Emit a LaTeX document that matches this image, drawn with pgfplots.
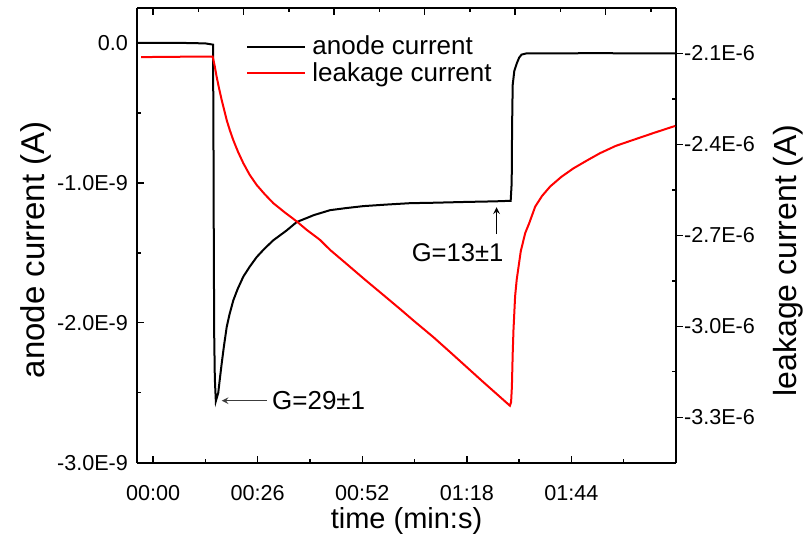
\documentclass[border=0pt]{standalone}
\usepackage{pgfplots}
\pgfplotsset{compat=1.18}
\usepackage{fontspec}
\setmainfont{Liberation Sans}
\definecolor{arrowgray}{RGB}{60,60,60}
\pgfplotstableread{
t v
-4 0
0 0
8 0
13 -0.003e-9
14.5 -0.01e-9
14.9 -0.012e-9
15.0 -0.6e-9
15.1 -1.5e-9
15.2 -2.1e-9
15.35 -2.4e-9
15.6 -2.56e-9
15.9 -2.53e-9
16.2 -2.50e-9
16.6 -2.40e-9
17.06 -2.29e-9
17.6 -2.17e-9
18.3 -2.03e-9
19.0 -1.94e-9
19.94 -1.84e-9
21.0 -1.76e-9
22.43 -1.67e-9
24.0 -1.60e-9
25.76 -1.53e-9
27.7 -1.47e-9
29.9 -1.41e-9
33.2 -1.34e-9
35.7 -1.28e-9
40 -1.23e-9
44.0 -1.195e-9
48 -1.18e-9
52.3 -1.166e-9
58 -1.155e-9
63.9 -1.145e-9
69.6 -1.142e-9
78.0 -1.136e-9
85 -1.132e-9
88.9 -1.128e-9
89.15 -1.0e-9
89.25 -0.6e-9
89.4 -0.3e-9
89.8 -0.2e-9
90.4 -0.147e-9
91.0 -0.105e-9
91.6 -0.083e-9
92.9 -0.074e-9
100 -0.074e-9
110 -0.073e-9
120 -0.074e-9
129.9 -0.074e-9
}\anode
\pgfplotstableread{
t v
-3 -2.112e-6
5 -2.111e-6
14.8 -2.110e-6
15.3 -2.14e-6
15.8 -2.177e-6
16.4 -2.215e-6
17.06 -2.254e-6
17.7 -2.288e-6
18.3 -2.320e-6
19.1 -2.354e-6
19.94 -2.386e-6
21.1 -2.424e-6
22.43 -2.462e-6
24.0 -2.500e-6
25.76 -2.534e-6
27.8 -2.565e-6
29.9 -2.594e-6
32.8 -2.625e-6
35.7 -2.654e-6
38.2 -2.682e-6
41.5 -2.715e-6
44.0 -2.748e-6
48 -2.793e-6
52.3 -2.842e-6
57 -2.894e-6
61.4 -2.943e-6
65 -2.984e-6
69.7 -3.036e-6
74 -3.087e-6
78.0 -3.135e-6
82 -3.183e-6
86.25 -3.233e-6
88.7 -3.262e-6
89.0 -3.25e-6
89.2 -3.20e-6
89.4 -3.09e-6
89.6 -3.011e-6
90.0 -2.901e-6
90.4 -2.846e-6
91.4 -2.753e-6
92.5 -2.693e-6
93.5 -2.66e-6
95.0 -2.605e-6
96.7 -2.57e-6
98.7 -2.539e-6
101.5 -2.507e-6
104.5 -2.479e-6
108 -2.452e-6
111.1 -2.429e-6
115 -2.405e-6
119.4 -2.385e-6
124.5 -2.362e-6
129.8 -2.339e-6
}\leak
\begin{document}
\begin{tikzpicture}[x=1pt,y=1pt]
\path (-68.5,-38.65) rectangle (337.5,231.35);
\pgfplotsset{
  every axis/.append style={
    at={(0pt,0pt)}, anchor=south west,
    scale only axis, width=269.5pt, height=227.35pt,
    xmin=-4, xmax=130,
    axis line style={line width=0.9pt},
    major tick length=3.5pt, minor tick length=2pt,
    every tick/.style={black, line width=0.7pt},
    tick label style={font=\fontsize{10.8}{12}\selectfont},
    label style={font=\fontsize{14.5}{16}\selectfont},
    scaled y ticks=false,
    clip=false,
  }
}
\begin{axis}[
  axis x line*=bottom, axis y line*=left,
  tick align=inside,
  ymin=-3e-9, ymax=0.25e-9,
  xtick={0,26,52,78,104},
  xticklabels={00:00,00:26,00:52,01:18,01:44},
  minor xtick={13,39,65,91,117},
  ytick={-3e-9,-2e-9,-1e-9,0},
  yticklabels={-3.0E-9,-2.0E-9,-1.0E-9,0.0},
  minor ytick={-2.5e-9,-1.5e-9,-0.5e-9},
  xticklabel style={yshift=-7.7pt},
  yticklabel style={xshift=-1pt},
  xlabel={time (min:s)},
  xlabel style={at={(axis description cs:0.5,-0.128)}, anchor=center},
  ylabel={anode current (A)},
  ylabel style={at={(axis description cs:-0.187,0.468)}, anchor=center, font=\fontsize{16.5}{18}\selectfont},
  legend style={at={(axis description cs:0.1912,0.957)}, anchor=north west,
    draw=none, fill=none, font=\fontsize{13}{14}\selectfont,
    row sep=-1.65pt, column sep=1pt},
  legend cell align=left,
  legend image code/.code={\draw[#1] (0pt,0pt) -- (29pt,0pt);},
]
\addplot[black, line width=1pt] table[x=t,y=v] {\anode};
\addlegendentry{anode current}
\addlegendimage{red, line width=1pt}
\addlegendentry{leakage current}
\draw[-stealth, arrowgray, line width=0.5pt] (axis cs:28.2,-2.557e-9) -- (axis cs:17.06,-2.557e-9);
\node[anchor=west, inner sep=0pt, font=\fontsize{13}{14}\selectfont] at (axis cs:29.5,-2.557e-9) {G=29±1};
\draw[-stealth, black, line width=0.5pt] (axis cs:85.4,-1.366e-9) -- (axis cs:85.4,-1.174e-9);
\node[anchor=center, inner sep=0pt, font=\fontsize{12.8}{14}\selectfont] at (axis cs:75.7,-1.5e-9) {G=13±1};
\end{axis}
\begin{axis}[
  axis x line*=top, axis y line*=right,
  tick align=inside,
  ymin=-3.45e-6, ymax=-1.95e-6,
  xtick={0,22.5,45,67.5,90,112.5},
  xticklabels={},
  xticklabel style={inner sep=0pt, outer sep=0pt},
  minor xtick={11.25,33.75,56.25,78.75,101.25,123.75},
  ytick={-3.3e-6,-3.0e-6,-2.7e-6,-2.4e-6,-2.1e-6},
  yticklabels={-3.3E-6,-3.0E-6,-2.7E-6,-2.4E-6,-2.1E-6},
  minor ytick={-3.15e-6,-2.85e-6,-2.55e-6,-2.25e-6},
  major y tick style={xshift=3.5pt},
  yticklabel style={xshift=0.5pt},
  ylabel={leakage current (A)},
  ylabel style={at={(axis description cs:1.208,0.445)}, anchor=center, font=\fontsize{16}{18}\selectfont},
]
\addplot[red, line width=1pt] table[x=t,y=v] {\leak};
\end{axis}
\end{tikzpicture}
\end{document}
